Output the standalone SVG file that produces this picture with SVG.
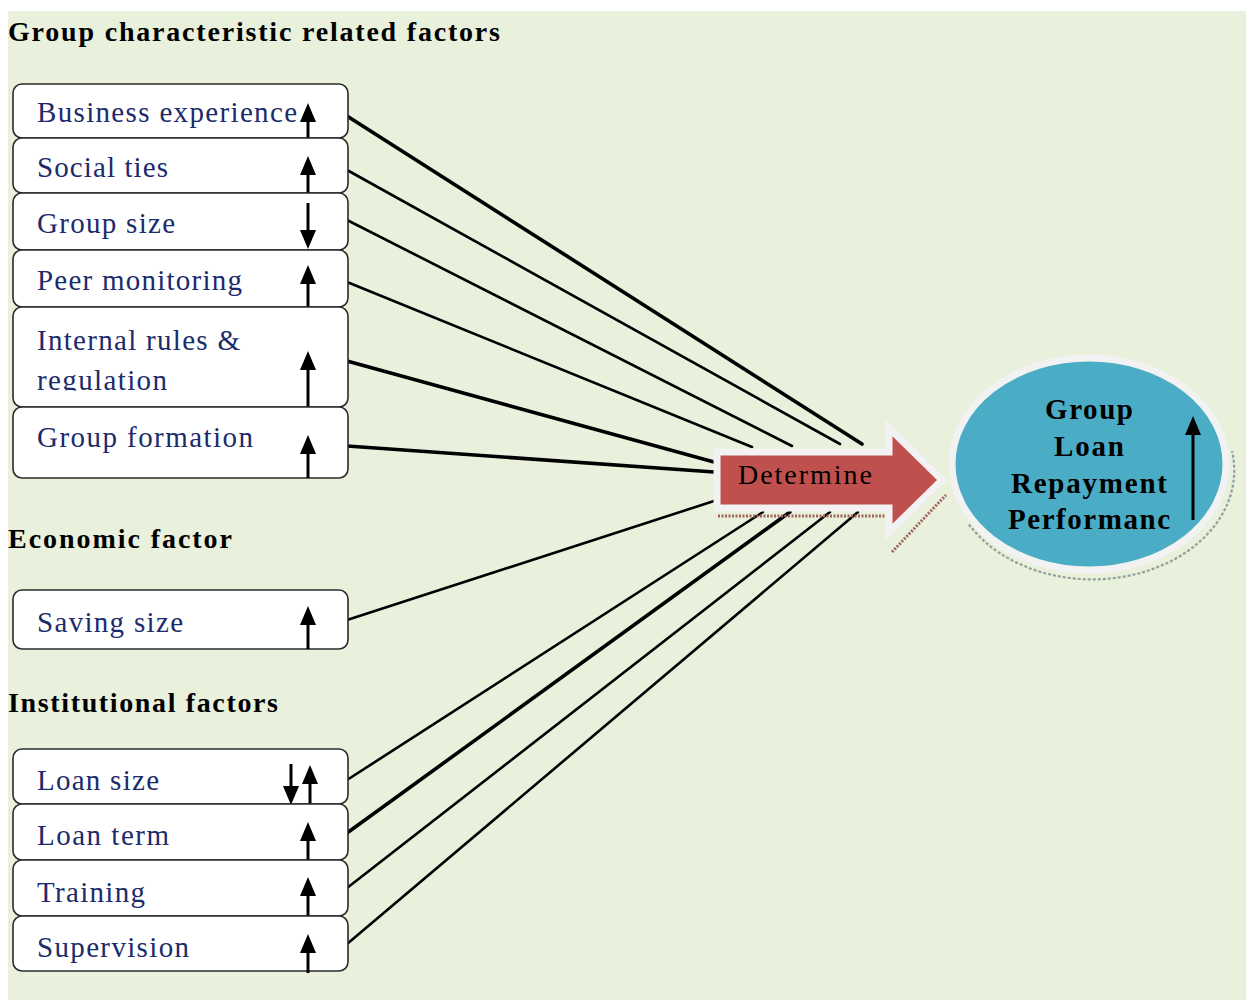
<svg xmlns="http://www.w3.org/2000/svg" width="1246" height="1000" viewBox="0 0 1246 1000">
<style>
.bg{fill:#e9f0dc}
.box{fill:#ffffff;stroke:#2b2b2b;stroke-width:1.6}
.lbl{font-family:"Liberation Serif","Times New Roman",serif;font-size:29px;fill:#1b2b6b}
.ttl{font-family:"Liberation Serif","Times New Roman",serif;font-size:28px;font-weight:bold;fill:#000}
.ctr{font-family:"Liberation Serif","Times New Roman",serif;font-size:29px;font-weight:bold;fill:#000;text-anchor:middle}
.ind{stroke:#000;stroke-width:3;fill:none}
.head{fill:#000}
.con{stroke:#000;stroke-width:2.6;fill:none;stroke-linecap:round}
.thick{stroke-width:3.6}
</style>
<defs>
<clipPath id="regclip"><rect x="20" y="360" width="200" height="30.5"/></clipPath>
</defs>
<rect class="bg" x="8" y="11" width="1238" height="989"/>

<text class="ttl" x="8" y="41" textLength="492" lengthAdjust="spacing">Group characteristic related factors</text>
<text class="ttl" x="8" y="548" textLength="224" lengthAdjust="spacing">Economic factor</text>
<text class="ttl" x="8" y="712" textLength="270" lengthAdjust="spacing">Institutional factors</text>

<g id="connectors">
<line class="con thick" x1="347" y1="116" x2="862" y2="444"/>
<line class="con" x1="347" y1="170" x2="840" y2="444"/>
<line class="con" x1="347" y1="220" x2="792" y2="446"/>
<line class="con" x1="347" y1="282" x2="752" y2="447"/>
<line class="con thick" x1="347" y1="361" x2="714" y2="462"/>
<line class="con thick" x1="347" y1="446" x2="714" y2="472"/>
<line class="con" x1="347" y1="620" x2="714" y2="501"/>
<line class="con" x1="347" y1="780" x2="763" y2="512"/>
<line class="con thick" x1="347" y1="833" x2="790" y2="512"/>
<line class="con" x1="347" y1="888" x2="830" y2="512"/>
<line class="con" x1="347" y1="944" x2="858" y2="512"/>
</g>

<g id="n-business">
<rect class="box" x="13" y="84" width="335" height="54" rx="9"/>
<text class="lbl" x="37" y="122" textLength="260" lengthAdjust="spacing">Business experience</text>
<line class="ind" x1="308" y1="138" x2="308" y2="120"/><polygon class="head" points="308,103 300,122 316,122"/>
</g>
<g id="n-social">
<rect class="box" x="13" y="138" width="335" height="55" rx="9"/>
<text class="lbl" x="37" y="177" textLength="131" lengthAdjust="spacing">Social ties</text>
<line class="ind" x1="308" y1="193" x2="308" y2="172"/><polygon class="head" points="308,156 300,175 316,175"/>
</g>
<g id="n-groupsize">
<rect class="box" x="13" y="193" width="335" height="57" rx="9"/>
<text class="lbl" x="37" y="233" textLength="138" lengthAdjust="spacing">Group size</text>
<line class="ind" x1="308" y1="203" x2="308" y2="232"/><polygon class="head" points="308,249 300,230 316,230"/>
</g>
<g id="n-peer">
<rect class="box" x="13" y="250" width="335" height="57" rx="9"/>
<text class="lbl" x="37" y="290" textLength="205" lengthAdjust="spacing">Peer monitoring</text>
<line class="ind" x1="308" y1="307" x2="308" y2="282"/><polygon class="head" points="308,265 300,284 316,284"/>
</g>
<g id="n-internal">
<rect class="box" x="13" y="307" width="335" height="100" rx="9"/>
<text class="lbl" x="37" y="350" textLength="203" lengthAdjust="spacing">Internal rules &amp;</text>
<text class="lbl" x="37" y="390" textLength="130" lengthAdjust="spacing" clip-path="url(#regclip)">regulation</text>
<line class="ind" x1="308" y1="407" x2="308" y2="368"/><polygon class="head" points="308,351 300,370 316,370"/>
</g>
<g id="n-formation">
<rect class="box" x="13" y="407" width="335" height="71" rx="9"/>
<text class="lbl" x="37" y="447" textLength="216" lengthAdjust="spacing">Group formation</text>
<line class="ind" x1="308" y1="478" x2="308" y2="452"/><polygon class="head" points="308,435 300,454 316,454"/>
</g>
<g id="n-saving">
<rect class="box" x="13" y="590" width="335" height="59" rx="9"/>
<text class="lbl" x="37" y="632" textLength="146" lengthAdjust="spacing">Saving size</text>
<line class="ind" x1="308" y1="649" x2="308" y2="623"/><polygon class="head" points="308,606 300,625 316,625"/>
</g>
<g id="n-loansize">
<rect class="box" x="13" y="749" width="335" height="55" rx="9"/>
<text class="lbl" x="37" y="790" textLength="122" lengthAdjust="spacing">Loan size</text>
<line class="ind" x1="310" y1="806" x2="310" y2="782"/><polygon class="head" points="310,765 302,784 318,784"/>
<line class="ind" x1="291" y1="764" x2="291" y2="788"/><polygon class="head" points="291,805 283,786 299,786"/>
</g>
<g id="n-loanterm">
<rect class="box" x="13" y="804" width="335" height="56" rx="9"/>
<text class="lbl" x="37" y="845" textLength="132" lengthAdjust="spacing">Loan term</text>
<line class="ind" x1="308" y1="862" x2="308" y2="839"/><polygon class="head" points="308,822 300,841 316,841"/>
</g>
<g id="n-training">
<rect class="box" x="13" y="860" width="335" height="56" rx="9"/>
<text class="lbl" x="37" y="902" textLength="108" lengthAdjust="spacing">Training</text>
<line class="ind" x1="308" y1="918" x2="308" y2="894"/><polygon class="head" points="308,877 300,896 316,896"/>
</g>
<g id="n-supervision">
<rect class="box" x="13" y="916" width="335" height="55" rx="9"/>
<text class="lbl" x="37" y="957" textLength="152" lengthAdjust="spacing">Supervision</text>
<line class="ind" x1="308" y1="973" x2="308" y2="951"/><polygon class="head" points="308,934 300,953 316,953"/>
</g>

<g id="n-determine">
<path d="M718,516 L890,516 M892,552 L946,495" stroke="#a0625a" stroke-width="3" stroke-dasharray="2,1.5" fill="none"/>
<path d="M717,452 L889,452 L889,428 L942,480 L889,532 L889,508 L717,508 Z" fill="#c0504d" stroke="#f2f2f2" stroke-width="7" stroke-linejoin="miter"/>
<text x="738" y="484" font-family="Liberation Serif, Times New Roman, serif" font-size="28" fill="#000" textLength="134" lengthAdjust="spacing">Determine</text>
</g>

<g id="n-performance">
<path d="M969,524.5 A142,109 0 0 0 1232,451" stroke="#8fa39a" stroke-width="2.2" stroke-dasharray="3,2" fill="none"/>
<ellipse cx="1089" cy="464" rx="137" ry="106" fill="#4bacc6" stroke="#f2f2f2" stroke-width="7"/>
<text class="ctr" x="1089" y="419" textLength="88" lengthAdjust="spacing">Group</text>
<text class="ctr" x="1089" y="456" textLength="70" lengthAdjust="spacing">Loan</text>
<text class="ctr" x="1089" y="493" textLength="156" lengthAdjust="spacing">Repayment</text>
<text class="ctr" x="1089" y="529" textLength="162" lengthAdjust="spacing">Performanc</text>
<line class="ind" x1="1193" y1="520" x2="1193" y2="432"/><polygon class="head" points="1193,416 1185,435 1201,435"/>
</g>
</svg>
